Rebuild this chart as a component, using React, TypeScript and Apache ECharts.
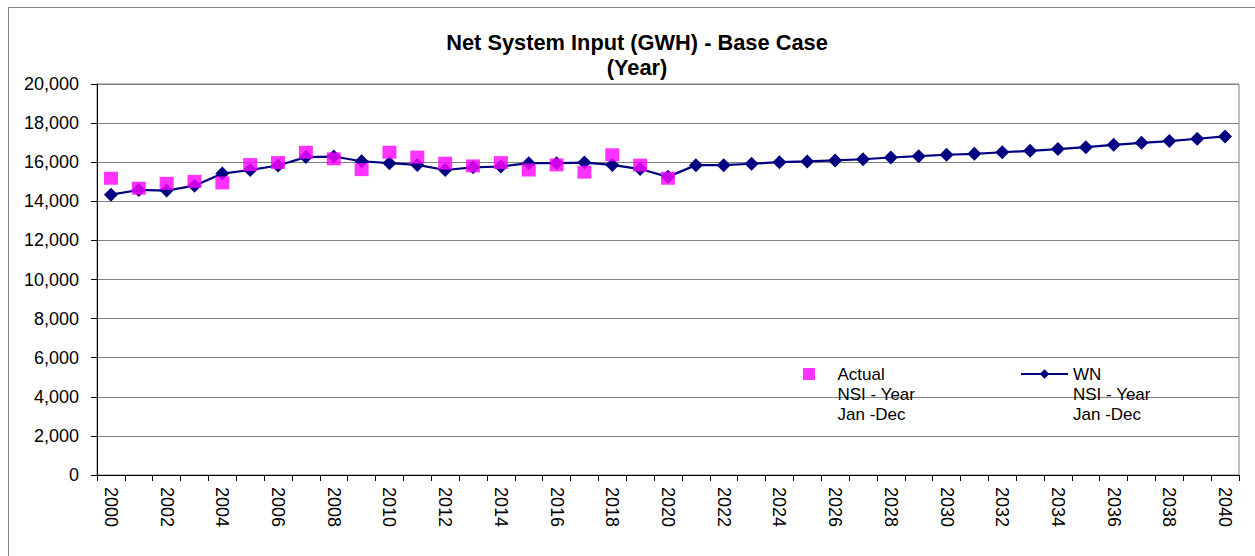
import React, { useEffect, useRef } from 'react';
import * as echarts from 'echarts';

const years = [
  '2000', '2001', '2002', '2003', '2004', '2005', '2006', '2007', '2008', '2009',
  '2010', '2011', '2012', '2013', '2014', '2015', '2016', '2017', '2018', '2019',
  '2020', '2021', '2022', '2023', '2024', '2025', '2026', '2027', '2028', '2029',
  '2030', '2031', '2032', '2033', '2034', '2035', '2036', '2037', '2038', '2039', '2040',
];

// Actual NSI - Year (Jan-Dec), 2000..2020
const actual = [
  15180, 14670, 14920, 15020, 14940, 15880, 15980, 16510, 16170, 15620,
  16510, 16260, 15950, 15810, 15980, 15600, 15860, 15490, 16380, 15850, 15180,
];

// WN NSI - Year (Jan-Dec), 2000..2040
const wn = [
  14340, 14580, 14550, 14800, 15420, 15600, 15830, 16260, 16290, 16050, 15950,
  15860, 15600, 15740, 15780, 15950, 15950, 15980, 15860, 15650, 15250, 15850,
  15850, 15920, 16000, 16040, 16090, 16150, 16240, 16310, 16380, 16430, 16510,
  16580, 16670, 16770, 16890, 16990, 17080, 17200, 17320,
];

const titleText = 'Net System Input (GWH) - Base Case\n(Year)';
const actualLabel = '\n\nActual\nNSI - Year\nJan -Dec';
const wnLabel = '\n\nWN\nNSI - Year\nJan -Dec';

const FONT = '"Liberation Sans", Arial, sans-serif';

export default function App() {
  const ref = useRef<HTMLDivElement>(null);

  useEffect(() => {
    if (!ref.current) return;
    const chart = echarts.init(ref.current, undefined, { renderer: 'svg' });
    const legendCommon = {
      orient: 'horizontal',
      padding: 0,
      itemWidth: 47,
      itemHeight: 12,
      selectedMode: false,
      textStyle: {
        fontSize: 17,
        lineHeight: 20,
        color: '#000',
        fontFamily: FONT,
      },
    };
    chart.setOption({
      animation: false,
      backgroundColor: '#fff',
      textStyle: { fontFamily: FONT },
      title: {
        text: titleText,
        left: 637,
        top: 30,
        padding: 0,
        textAlign: 'center',
        textStyle: {
          fontSize: 21.8,
          fontWeight: 'bold',
          lineHeight: 25,
          color: '#000',
          fontFamily: FONT,
        },
      },
      graphic: [
        {
          type: 'rect',
          shape: { x: 8.5, y: 7.5, width: 1300, height: 620 },
          style: { fill: 'none', stroke: '#808080', lineWidth: 1 },
          silent: true,
        },
      ],
      legend: [
        {
          ...legendCommon,
          left: 803,
          top: 324,
          data: [{ name: 'Actual', icon: 'path://M0,0H10V10H0Z' }],
          formatter: () => actualLabel,
        },
        {
          ...legendCommon,
          left: 1020,
          top: 324,
          data: ['WN'],
          formatter: () => wnLabel,
        },
      ],
      grid: {
        left: 97,
        right: 16,
        top: 84,
        bottom: 81,
        show: true,
        borderColor: '#808080',
        borderWidth: 1,
        backgroundColor: 'transparent',
      },
      xAxis: {
        type: 'category',
        data: years,
        boundaryGap: true,
        axisLine: { show: true, lineStyle: { color: '#000', width: 1 } },
        axisTick: { show: true, interval: 0, length: 6, lineStyle: { color: '#000' } },
        axisLabel: {
          interval: 1,
          rotate: -90,
          fontSize: 18,
          margin: 12,
          color: '#000',
          fontFamily: FONT,
        },
        splitLine: { show: false },
      },
      yAxis: {
        type: 'value',
        min: 0,
        max: 20000,
        interval: 2000,
        axisLine: { show: true, lineStyle: { color: '#000', width: 1 } },
        axisTick: { show: true, length: 6, lineStyle: { color: '#000' } },
        axisLabel: {
          fontSize: 18,
          margin: 18,
          color: '#000',
          fontFamily: FONT,
          formatter: (v: number) => v.toLocaleString('en-US'),
        },
        splitLine: { show: true, lineStyle: { color: '#808080', width: 1 } },
      },
      series: [
        {
          name: 'WN',
          type: 'line',
          data: wn,
          symbol: 'diamond',
          symbolSize: 14,
          color: '#000080',
          lineStyle: { color: '#000080', width: 2.2 },
          itemStyle: { color: '#000080' },
          z: 2,
        },
        {
          name: 'Actual',
          type: 'scatter',
          data: actual,
          symbol: 'rect',
          symbolSize: [14, 13],
          color: '#FF00FF',
          itemStyle: { color: '#FF00FF' },
          z: 3,
        },
      ],
    });
    return () => chart.dispose();
  }, []);

  return (
    <div
      ref={ref}
      style={{ position: 'absolute', left: 0, top: 0, width: 1255, height: 556 }}
    />
  );
}
